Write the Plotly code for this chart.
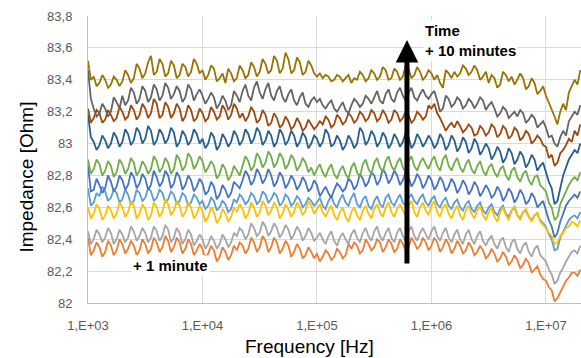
import plotly.graph_objects as go

# log10 of the measured sweep frequencies (Hz)
LOG10_FREQ = [
    3.000, 3.025, 3.050, 3.075, 3.100, 3.125, 3.150, 3.175, 3.200, 3.225,
    3.250, 3.275, 3.300, 3.325, 3.350, 3.375, 3.400, 3.425, 3.450, 3.475,
    3.500, 3.525, 3.550, 3.575, 3.600, 3.625, 3.650, 3.675, 3.700, 3.725,
    3.750, 3.775, 3.800, 3.825, 3.850, 3.875, 3.900, 3.925, 3.950, 3.975,
    4.000, 4.025, 4.050, 4.075, 4.100, 4.125, 4.150, 4.175, 4.200, 4.225,
    4.250, 4.275, 4.300, 4.325, 4.350, 4.375, 4.400, 4.425, 4.450, 4.475,
    4.500, 4.525, 4.550, 4.575, 4.600, 4.625, 4.650, 4.675, 4.700, 4.725,
    4.750, 4.775, 4.800, 4.825, 4.850, 4.875, 4.900, 4.925, 4.950, 4.975,
    5.000, 5.025, 5.050, 5.075, 5.100, 5.125, 5.150, 5.175, 5.200, 5.225,
    5.250, 5.275, 5.300, 5.325, 5.350, 5.375, 5.400, 5.425, 5.450, 5.475,
    5.500, 5.525, 5.550, 5.575, 5.600, 5.625, 5.650, 5.675, 5.700, 5.725,
    5.750, 5.775, 5.800, 5.825, 5.850, 5.875, 5.900, 5.925, 5.950, 5.975,
    6.000, 6.025, 6.050, 6.075, 6.100, 6.125, 6.150, 6.175, 6.200, 6.225,
    6.250, 6.275, 6.300, 6.325, 6.350, 6.375, 6.400, 6.425, 6.450, 6.475,
    6.500, 6.525, 6.550, 6.575, 6.600, 6.625, 6.650, 6.675, 6.700, 6.725,
    6.750, 6.775, 6.800, 6.825, 6.850, 6.875, 6.900, 6.925, 6.950, 6.975,
    7.000, 7.025, 7.050, 7.075, 7.100, 7.125, 7.150, 7.175, 7.200, 7.225,
    7.250, 7.275, 7.300]
FREQ_HZ = [10 ** e for e in LOG10_FREQ]

S01_LIGHTBLUE = [
    82.72, 82.61, 82.63, 82.69, 82.67, 82.73, 82.70, 82.64, 82.66, 82.71,
    82.69, 82.63, 82.65, 82.71, 82.68, 82.62, 82.64, 82.71, 82.69, 82.64,
    82.66, 82.72, 82.70, 82.64, 82.66, 82.71, 82.69, 82.63, 82.65, 82.70,
    82.68, 82.62, 82.64, 82.69, 82.67, 82.61, 82.63, 82.68, 82.66, 82.62,
    82.64, 82.59, 82.61, 82.66, 82.64, 82.58, 82.60, 82.64, 82.62, 82.57,
    82.59, 82.65, 82.63, 82.68, 82.66, 82.62, 82.64, 82.69, 82.67, 82.62,
    82.64, 82.70, 82.68, 82.63, 82.65, 82.69, 82.67, 82.61, 82.63, 82.68,
    82.66, 82.61, 82.63, 82.67, 82.65, 82.60, 82.62, 82.66, 82.64, 82.61,
    82.63, 82.66, 82.61, 82.59, 82.64, 82.67, 82.62, 82.60, 82.65, 82.68,
    82.63, 82.61, 82.66, 82.69, 82.62, 82.60, 82.65, 82.67, 82.61, 82.59,
    82.64, 82.67, 82.62, 82.60, 82.66, 82.68, 82.63, 82.61, 82.65, 82.68,
    82.63, 82.61, 82.66, 82.68, 82.64, 82.62, 82.66, 82.68, 82.63, 82.61,
    82.65, 82.67, 82.62, 82.60, 82.64, 82.66, 82.61, 82.59, 82.63, 82.65,
    82.60, 82.58, 82.62, 82.64, 82.59, 82.57, 82.61, 82.63, 82.58, 82.56,
    82.60, 82.62, 82.57, 82.55, 82.59, 82.61, 82.56, 82.54, 82.58, 82.60,
    82.55, 82.53, 82.57, 82.58, 82.54, 82.52, 82.55, 82.56, 82.52, 82.50,
    82.48, 82.43, 82.40, 82.33, 82.34, 82.41, 82.45, 82.49, 82.52, 82.54,
    82.55, 82.53, 82.57]
S02_ORANGE = [
    82.41, 82.30, 82.33, 82.38, 82.35, 82.29, 82.32, 82.39, 82.36, 82.30,
    82.33, 82.40, 82.37, 82.31, 82.34, 82.39, 82.36, 82.30, 82.33, 82.40,
    82.37, 82.31, 82.34, 82.41, 82.38, 82.32, 82.35, 82.42, 82.39, 82.32,
    82.35, 82.41, 82.38, 82.31, 82.34, 82.40, 82.37, 82.30, 82.33, 82.37,
    82.34, 82.28, 82.31, 82.36, 82.33, 82.26, 82.29, 82.35, 82.32, 82.27,
    82.30, 82.36, 82.33, 82.38, 82.36, 82.31, 82.34, 82.41, 82.38, 82.32,
    82.35, 82.42, 82.39, 82.32, 82.35, 82.41, 82.38, 82.31, 82.34, 82.39,
    82.36, 82.29, 82.32, 82.37, 82.34, 82.28, 82.30, 82.35, 82.32, 82.28,
    82.31, 82.26, 82.29, 82.33, 82.31, 82.27, 82.29, 82.34, 82.32, 82.28,
    82.30, 82.37, 82.34, 82.38, 82.36, 82.31, 82.33, 82.40, 82.37, 82.33,
    82.35, 82.40, 82.38, 82.32, 82.35, 82.40, 82.37, 82.32, 82.34, 82.40,
    82.37, 82.33, 82.35, 82.41, 82.38, 82.34, 82.36, 82.41, 82.38, 82.33,
    82.36, 82.41, 82.38, 82.32, 82.35, 82.40, 82.37, 82.31, 82.34, 82.39,
    82.36, 82.31, 82.33, 82.38, 82.35, 82.30, 82.32, 82.36, 82.33, 82.28,
    82.30, 82.34, 82.31, 82.26, 82.28, 82.32, 82.29, 82.24, 82.26, 82.30,
    82.27, 82.22, 82.24, 82.28, 82.25, 82.19, 82.21, 82.23, 82.18, 82.15,
    82.14, 82.10, 82.08, 82.01, 82.03, 82.07, 82.10, 82.14, 82.16, 82.19,
    82.19, 82.17, 82.21]
S03_GRAY = [
    82.45, 82.37, 82.40, 82.46, 82.43, 82.38, 82.41, 82.47, 82.44, 82.37,
    82.40, 82.46, 82.43, 82.38, 82.41, 82.48, 82.45, 82.39, 82.42, 82.47,
    82.44, 82.38, 82.41, 82.48, 82.45, 82.39, 82.42, 82.49, 82.46, 82.38,
    82.41, 82.47, 82.44, 82.37, 82.40, 82.46, 82.43, 82.36, 82.39, 82.43,
    82.40, 82.34, 82.37, 82.42, 82.39, 82.34, 82.37, 82.43, 82.40, 82.35,
    82.38, 82.44, 82.42, 82.47, 82.45, 82.40, 82.43, 82.50, 82.47, 82.42,
    82.44, 82.51, 82.48, 82.42, 82.45, 82.50, 82.47, 82.41, 82.44, 82.49,
    82.46, 82.40, 82.43, 82.48, 82.45, 82.39, 82.42, 82.47, 82.44, 82.39,
    82.41, 82.44, 82.40, 82.37, 82.42, 82.45, 82.39, 82.36, 82.41, 82.44,
    82.40, 82.37, 82.43, 82.46, 82.41, 82.38, 82.44, 82.47, 82.42, 82.39,
    82.45, 82.48, 82.42, 82.39, 82.44, 82.47, 82.41, 82.38, 82.44, 82.47,
    82.42, 82.39, 82.45, 82.48, 82.42, 82.39, 82.44, 82.47, 82.43, 82.40,
    82.45, 82.48, 82.42, 82.39, 82.44, 82.47, 82.41, 82.38, 82.43, 82.46,
    82.40, 82.37, 82.43, 82.46, 82.40, 82.37, 82.42, 82.45, 82.39, 82.36,
    82.40, 82.42, 82.37, 82.34, 82.39, 82.41, 82.35, 82.32, 82.38, 82.40,
    82.34, 82.31, 82.36, 82.38, 82.32, 82.29, 82.34, 82.36, 82.30, 82.28,
    82.26, 82.21, 82.18, 82.12, 82.14, 82.19, 82.22, 82.26, 82.29, 82.32,
    82.33, 82.31, 82.36]
S04_GOLD = [
    82.60, 82.53, 82.56, 82.62, 82.59, 82.52, 82.55, 82.61, 82.58, 82.53,
    82.56, 82.63, 82.60, 82.54, 82.57, 82.64, 82.61, 82.53, 82.56, 82.62,
    82.59, 82.52, 82.55, 82.63, 82.60, 82.54, 82.57, 82.65, 82.62, 82.55,
    82.58, 82.64, 82.61, 82.54, 82.57, 82.63, 82.60, 82.53, 82.56, 82.61,
    82.58, 82.51, 82.54, 82.60, 82.57, 82.50, 82.53, 82.59, 82.56, 82.51,
    82.54, 82.60, 82.57, 82.62, 82.59, 82.53, 82.56, 82.63, 82.60, 82.54,
    82.57, 82.64, 82.61, 82.55, 82.58, 82.63, 82.60, 82.53, 82.56, 82.62,
    82.59, 82.54, 82.57, 82.63, 82.60, 82.55, 82.58, 82.64, 82.61, 82.56,
    82.59, 82.62, 82.57, 82.54, 82.58, 82.61, 82.55, 82.52, 82.57, 82.60,
    82.54, 82.51, 82.57, 82.60, 82.55, 82.52, 82.58, 82.61, 82.56, 82.53,
    82.59, 82.62, 82.57, 82.54, 82.60, 82.63, 82.57, 82.54, 82.59, 82.62,
    82.58, 82.55, 82.61, 82.64, 82.57, 82.54, 82.60, 82.63, 82.58, 82.55,
    82.61, 82.64, 82.57, 82.54, 82.60, 82.62, 82.56, 82.53, 82.58, 82.61,
    82.55, 82.52, 82.58, 82.61, 82.56, 82.53, 82.58, 82.61, 82.55, 82.52,
    82.57, 82.60, 82.54, 82.51, 82.57, 82.60, 82.55, 82.52, 82.58, 82.61,
    82.55, 82.52, 82.57, 82.59, 82.54, 82.51, 82.55, 82.57, 82.51, 82.49,
    82.47, 82.44, 82.42, 82.37, 82.38, 82.42, 82.44, 82.47, 82.48, 82.51,
    82.50, 82.48, 82.52]
S05_BLUE = [
    82.86, 82.70, 82.71, 82.78, 82.74, 82.69, 82.72, 82.80, 82.76, 82.70,
    82.73, 82.80, 82.77, 82.71, 82.74, 82.82, 82.79, 82.72, 82.75, 82.81,
    82.78, 82.71, 82.74, 82.83, 82.79, 82.73, 82.76, 82.83, 82.80, 82.72,
    82.75, 82.82, 82.79, 82.71, 82.74, 82.80, 82.77, 82.70, 82.73, 82.78,
    82.75, 82.68, 82.70, 82.76, 82.73, 82.65, 82.68, 82.74, 82.71, 82.66,
    82.69, 82.76, 82.74, 82.72, 82.77, 82.83, 82.80, 82.74, 82.77, 82.84,
    82.81, 82.75, 82.78, 82.84, 82.80, 82.73, 82.76, 82.82, 82.79, 82.72,
    82.75, 82.80, 82.77, 82.71, 82.74, 82.79, 82.76, 82.70, 82.72, 82.77,
    82.74, 82.67, 82.70, 82.73, 82.69, 82.66, 82.71, 82.75, 82.73, 82.70,
    82.72, 82.78, 82.76, 82.71, 82.74, 82.81, 82.78, 82.73, 82.76, 82.82,
    82.80, 82.74, 82.77, 82.84, 82.81, 82.75, 82.78, 82.83, 82.80, 82.74,
    82.77, 82.82, 82.79, 82.73, 82.76, 82.81, 82.78, 82.72, 82.75, 82.80,
    82.77, 82.71, 82.74, 82.79, 82.76, 82.70, 82.73, 82.78, 82.75, 82.69,
    82.72, 82.77, 82.74, 82.68, 82.71, 82.76, 82.73, 82.67, 82.70, 82.74,
    82.71, 82.66, 82.68, 82.73, 82.70, 82.64, 82.67, 82.72, 82.69, 82.63,
    82.66, 82.71, 82.68, 82.62, 82.64, 82.69, 82.66, 82.60, 82.62, 82.64,
    82.58, 82.52, 82.48, 82.41, 82.44, 82.51, 82.56, 82.61, 82.64, 82.66,
    82.68, 82.66, 82.70]
S06_GREEN = [
    82.90, 82.81, 82.84, 82.90, 82.87, 82.80, 82.83, 82.89, 82.86, 82.79,
    82.82, 82.90, 82.87, 82.81, 82.84, 82.91, 82.88, 82.80, 82.83, 82.89,
    82.86, 82.81, 82.84, 82.92, 82.89, 82.82, 82.85, 82.91, 82.88, 82.81,
    82.84, 82.93, 82.90, 82.83, 82.86, 82.94, 82.91, 82.84, 82.87, 82.92,
    82.89, 82.82, 82.85, 82.89, 82.86, 82.78, 82.81, 82.87, 82.84, 82.77,
    82.80, 82.86, 82.83, 82.80, 82.86, 82.92, 82.89, 82.83, 82.86, 82.94,
    82.91, 82.85, 82.88, 82.95, 82.92, 82.85, 82.88, 82.94, 82.91, 82.84,
    82.87, 82.93, 82.90, 82.83, 82.86, 82.91, 82.88, 82.82, 82.85, 82.80,
    82.84, 82.87, 82.82, 82.79, 82.84, 82.87, 82.81, 82.78, 82.83, 82.86,
    82.81, 82.78, 82.85, 82.88, 82.82, 82.79, 82.87, 82.90, 82.84, 82.81,
    82.88, 82.91, 82.85, 82.82, 82.89, 82.92, 82.86, 82.83, 82.88, 82.91,
    82.85, 82.82, 82.89, 82.92, 82.86, 82.83, 82.88, 82.91, 82.87, 82.84,
    82.89, 82.92, 82.86, 82.83, 82.90, 82.93, 82.86, 82.83, 82.88, 82.91,
    82.85, 82.82, 82.87, 82.90, 82.84, 82.81, 82.86, 82.89, 82.83, 82.80,
    82.85, 82.87, 82.82, 82.79, 82.84, 82.86, 82.80, 82.77, 82.83, 82.85,
    82.79, 82.76, 82.81, 82.83, 82.77, 82.74, 82.79, 82.80, 82.74, 82.72,
    82.70, 82.63, 82.60, 82.52, 82.54, 82.62, 82.66, 82.71, 82.74, 82.77,
    82.79, 82.77, 82.82]
S07_DARKBLUE = [
    83.18, 83.04, 83.01, 82.96, 82.99, 83.05, 83.02, 82.97, 83.00, 83.07,
    83.04, 82.98, 83.01, 83.09, 83.06, 82.99, 83.02, 83.10, 83.07, 83.00,
    83.03, 83.11, 83.08, 82.99, 83.02, 83.09, 83.06, 83.00, 83.03, 83.10,
    83.07, 82.98, 83.01, 83.08, 83.05, 82.99, 83.02, 83.09, 83.06, 83.00,
    83.03, 82.97, 83.00, 83.07, 83.04, 82.96, 82.99, 83.06, 83.03, 82.98,
    83.01, 83.08, 83.05, 82.99, 83.02, 83.09, 83.06, 83.00, 83.03, 83.10,
    83.07, 82.99, 83.02, 83.08, 83.05, 82.98, 83.01, 83.09, 83.06, 82.99,
    83.02, 83.08, 83.05, 82.98, 83.01, 83.07, 83.04, 82.97, 83.00, 83.05,
    83.03, 82.98, 83.01, 83.09, 83.06, 82.98, 83.00, 83.05, 83.02, 82.96,
    82.99, 83.05, 83.02, 82.97, 83.00, 83.10, 83.07, 82.99, 83.02, 83.08,
    83.05, 82.98, 83.01, 83.07, 83.04, 82.97, 83.00, 83.06, 83.03, 82.98,
    83.01, 83.07, 83.04, 82.97, 83.00, 83.06, 83.03, 82.98, 83.01, 83.05,
    83.02, 82.97, 83.00, 83.06, 83.03, 82.96, 82.99, 83.05, 83.02, 82.95,
    82.98, 83.04, 83.01, 82.94, 82.97, 83.03, 83.00, 82.93, 82.96, 83.00,
    82.97, 82.90, 82.93, 82.98, 82.95, 82.88, 82.91, 82.97, 82.94, 82.87,
    82.90, 82.95, 82.92, 82.85, 82.88, 82.93, 82.90, 82.83, 82.86, 82.88,
    82.82, 82.76, 82.72, 82.62, 82.64, 82.73, 82.80, 82.85, 82.90, 82.93,
    82.96, 82.94, 83.00]
S08_DARKORANGE = [
    83.22, 83.13, 83.16, 83.21, 83.19, 83.13, 83.15, 83.21, 83.18, 83.14,
    83.16, 83.23, 83.20, 83.15, 83.17, 83.24, 83.21, 83.15, 83.18, 83.25,
    83.22, 83.16, 83.19, 83.28, 83.25, 83.16, 83.18, 83.26, 83.23, 83.16,
    83.19, 83.25, 83.22, 83.14, 83.17, 83.24, 83.21, 83.14, 83.16, 83.22,
    83.19, 83.14, 83.16, 83.23, 83.20, 83.15, 83.17, 83.24, 83.21, 83.15,
    83.18, 83.25, 83.22, 83.16, 83.19, 83.14, 83.17, 83.23, 83.20, 83.13,
    83.15, 83.21, 83.18, 83.11, 83.13, 83.19, 83.16, 83.10, 83.12, 83.17,
    83.14, 83.09, 83.11, 83.16, 83.13, 83.08, 83.10, 83.15, 83.12, 83.09,
    83.11, 83.14, 83.12, 83.17, 83.15, 83.10, 83.12, 83.18, 83.16, 83.12,
    83.14, 83.19, 83.17, 83.13, 83.15, 83.20, 83.18, 83.14, 83.16, 83.21,
    83.19, 83.14, 83.16, 83.21, 83.18, 83.13, 83.15, 83.21, 83.19, 83.14,
    83.16, 83.20, 83.18, 83.13, 83.15, 83.20, 83.18, 83.15, 83.17, 83.24,
    83.22, 83.25, 83.19, 83.16, 83.12, 83.08, 83.11, 83.13, 83.10, 83.14,
    83.11, 83.07, 83.09, 83.12, 83.10, 83.05, 83.06, 83.11, 83.09, 83.05,
    83.07, 83.12, 83.10, 83.04, 83.06, 83.11, 83.09, 83.03, 83.05, 83.10,
    83.08, 83.02, 83.04, 83.08, 83.06, 83.00, 83.02, 83.05, 83.03, 82.99,
    82.98, 82.91, 82.93, 82.86, 82.88, 82.94, 82.96, 82.99, 83.03, 83.01,
    83.08, 83.05, 83.12]
S09_DARKGRAY = [
    83.46, 83.28, 83.22, 83.17, 83.19, 83.25, 83.22, 83.17, 83.20, 83.29,
    83.26, 83.22, 83.30, 83.24, 83.27, 83.35, 83.32, 83.25, 83.28, 83.36,
    83.33, 83.26, 83.29, 83.37, 83.34, 83.27, 83.30, 83.38, 83.35, 83.28,
    83.31, 83.36, 83.33, 83.26, 83.29, 83.37, 83.34, 83.27, 83.31, 83.34,
    83.30, 83.25, 83.28, 83.32, 83.29, 83.22, 83.25, 83.30, 83.27, 83.21,
    83.24, 83.33, 83.30, 83.26, 83.33, 83.37, 83.30, 83.27, 83.35, 83.39,
    83.32, 83.28, 83.34, 83.38, 83.30, 83.27, 83.33, 83.36, 83.29, 83.26,
    83.31, 83.34, 83.27, 83.24, 83.29, 83.32, 83.25, 83.23, 83.27, 83.29,
    83.26, 83.28, 83.24, 83.22, 83.25, 83.27, 83.22, 83.20, 83.23, 83.26,
    83.21, 83.19, 83.24, 83.28, 83.26, 83.23, 83.25, 83.30, 83.28, 83.25,
    83.29, 83.33, 83.27, 83.25, 83.31, 83.34, 83.28, 83.26, 83.32, 83.35,
    83.30, 83.27, 83.32, 83.35, 83.29, 83.27, 83.31, 83.34, 83.30, 83.28,
    83.31, 83.33, 83.27, 83.20, 83.22, 83.30, 83.28, 83.23, 83.25, 83.29,
    83.27, 83.22, 83.24, 83.28, 83.26, 83.22, 83.25, 83.29, 83.27, 83.21,
    83.24, 83.26, 83.22, 83.17, 83.19, 83.23, 83.21, 83.16, 83.18, 83.20,
    83.17, 83.21, 83.19, 83.13, 83.15, 83.18, 83.16, 83.10, 83.12, 83.14,
    83.10, 83.04, 83.05, 83.00, 82.98, 83.04, 83.08, 83.05, 83.14, 83.17,
    83.20, 83.18, 83.24]
S10_OLIVE = [
    83.52, 83.40, 83.42, 83.36, 83.38, 83.43, 83.40, 83.35, 83.37, 83.42,
    83.40, 83.36, 83.39, 83.46, 83.43, 83.38, 83.41, 83.50, 83.47, 83.41,
    83.44, 83.51, 83.55, 83.43, 83.45, 83.53, 83.50, 83.42, 83.44, 83.52,
    83.49, 83.41, 83.43, 83.50, 83.48, 83.42, 83.45, 83.53, 83.50, 83.44,
    83.46, 83.40, 83.43, 83.49, 83.47, 83.39, 83.41, 83.44, 83.38, 83.47,
    83.44, 83.39, 83.41, 83.49, 83.46, 83.41, 83.43, 83.51, 83.48, 83.42,
    83.45, 83.53, 83.50, 83.44, 83.46, 83.55, 83.52, 83.44, 83.47, 83.57,
    83.53, 83.44, 83.46, 83.54, 83.51, 83.43, 83.45, 83.52, 83.49, 83.44,
    83.42, 83.44, 83.41, 83.43, 83.42, 83.39, 83.40, 83.43, 83.42, 83.39,
    83.41, 83.43, 83.38, 83.41, 83.40, 83.45, 83.43, 83.39, 83.41, 83.46,
    83.44, 83.40, 83.42, 83.48, 83.46, 83.40, 83.41, 83.47, 83.45, 83.40,
    83.42, 83.49, 83.47, 83.41, 83.43, 83.48, 83.45, 83.40, 83.42, 83.46,
    83.44, 83.40, 83.43, 83.38, 83.35, 83.46, 83.44, 83.41, 83.45, 83.42,
    83.44, 83.49, 83.47, 83.43, 83.45, 83.49, 83.46, 83.40, 83.42, 83.45,
    83.38, 83.43, 83.41, 83.35, 83.37, 83.45, 83.43, 83.39, 83.42, 83.37,
    83.40, 83.44, 83.41, 83.34, 83.36, 83.41, 83.38, 83.31, 83.33, 83.36,
    83.30, 83.26, 83.22, 83.17, 83.12, 83.20, 83.25, 83.21, 83.32, 83.36,
    83.40, 83.37, 83.46]

SERIES = [S01_LIGHTBLUE, S02_ORANGE, S03_GRAY, S04_GOLD, S05_BLUE,
          S06_GREEN, S07_DARKBLUE, S08_DARKORANGE, S09_DARKGRAY, S10_OLIVE]
COLORS = ["#5B9BD5", "#ED7D31", "#A5A5A5", "#FFC000", "#4472C4",
          "#70AD47", "#255E91", "#9E480E", "#636363", "#997300"]

Y_TICK_VALUES = [82.0, 82.2, 82.4, 82.6, 82.8, 83.0, 83.2, 83.4, 83.6, 83.8]
Y_TICK_LABELS = ["82", "82,2", "82,4", "82,6", "82,8", "83", "83,2", "83,4", "83,6", "83,8"]
X_TICK_VALUES = [1e3, 1e4, 1e5, 1e6, 1e7]
X_TICK_LABELS = ["1,E+03", "1,E+04", "1,E+05", "1,E+06", "1,E+07"]

fig = go.Figure()
for i, (vals, col) in enumerate(zip(SERIES, COLORS)):
    fig.add_trace(go.Scatter(x=FREQ_HZ, y=vals, mode="lines",
                             line=dict(color=col, width=1.8),
                             name=f"+ {i + 1} min", showlegend=False))

FONT = "Liberation Sans, Arial, sans-serif"
tick_font = dict(family=FONT, size=13, color="#595959")
fig.update_layout(
    width=581, height=358,
    margin=dict(l=88, r=0, t=16, b=55),
    paper_bgcolor="white", plot_bgcolor="white",
    showlegend=False,
    xaxis=dict(type="log", range=[3, 7.306], tickvals=X_TICK_VALUES, ticktext=X_TICK_LABELS,
               showgrid=True, gridcolor="#d9d9d9", gridwidth=1,
               showline=True, linecolor="#bfbfbf", linewidth=1, zeroline=False,
               ticks="outside", ticklen=10, tickcolor="rgba(0,0,0,0)",
               tickfont=tick_font),
    yaxis=dict(range=[82, 83.8], tickvals=Y_TICK_VALUES, ticktext=Y_TICK_LABELS,
               showgrid=True, gridcolor="#d9d9d9", gridwidth=1,
               showline=True, linecolor="#bfbfbf", linewidth=1, zeroline=False,
               ticks="outside", ticklen=12, tickcolor="rgba(0,0,0,0)",
               tickfont=tick_font),
    annotations=[
        dict(text="Impedance [Ohm]", xref="paper", yref="paper", x=-0.124, y=0.44,
             xanchor="center", yanchor="middle", textangle=-90, showarrow=False,
             font=dict(family=FONT, size=19, color="black")),
        dict(text="Frequency [Hz]", xref="paper", yref="paper", x=0.45, y=-0.153,
             xanchor="center", yanchor="middle", showarrow=False,
             font=dict(family=FONT, size=19, color="black")),
        dict(text="", xref="paper", yref="paper", x=0.647, y=0.916,
             ax=0, ay=225, showarrow=True, arrowhead=2, arrowsize=0.9,
             arrowwidth=5, arrowcolor="black"),
        dict(text="<b>Time</b><br><b>+ 10 minutes</b>", xref="paper", yref="paper",
             x=0.68, y=0.985, xanchor="left", yanchor="top", align="left", showarrow=False,
             bgcolor="white",
             font=dict(family=FONT, size=15, color="black")),
        dict(text="<b>+ 1 minute</b>", xref="paper", yref="paper",
             x=0.087, y=0.129, xanchor="left", yanchor="middle", showarrow=False,
             bgcolor="white",
             font=dict(family=FONT, size=15, color="black")),
    ],
)

fig.write_html("out.html", config={"displayModeBar": False},
               post_script="document.body.style.margin='0';")
